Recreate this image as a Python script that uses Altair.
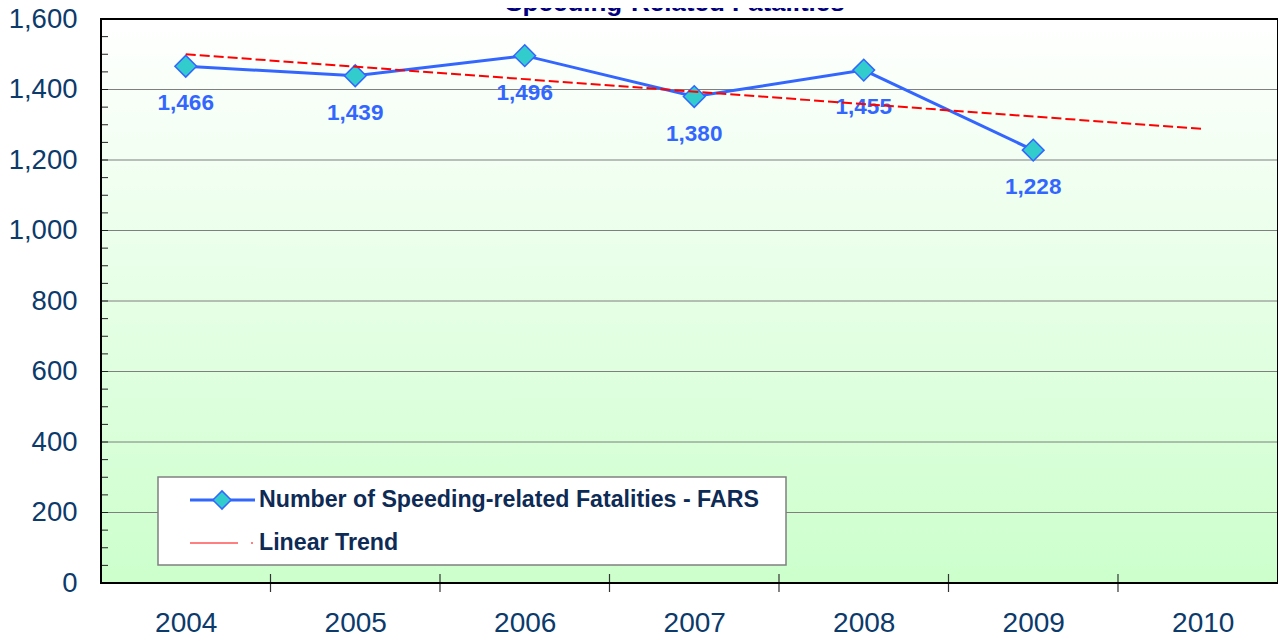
import altair as alt
import pandas as pd

# ---- data ----
years = [2004, 2005, 2006, 2007, 2008, 2009]
fatalities = [1466, 1439, 1496, 1380, 1455, 1228]
trend_years = [2004, 2010]
trend_values = [1500, 1288]
x_labels = [2004, 2005, 2006, 2007, 2008, 2009, 2010]
y_labels = [0, 200, 400, 600, 800, 1000, 1200, 1400, 1600]
gridlines = [200, 400, 600, 800, 1000, 1200, 1400]
minor_ticks = [0, 50, 100, 150, 200, 250, 300, 350, 400, 450, 500, 550, 600, 650,
               700, 750, 800, 850, 900, 950, 1000, 1050, 1100, 1150, 1200, 1250,
               1300, 1350, 1400, 1450, 1500, 1550, 1600]
x_tick_marks = [2004.5, 2005.5, 2006.5, 2007.5, 2008.5, 2009.5]
title_text = "Speeding-Related Fatalities"
series_name = "Number of Speeding-related Fatalities - FARS"
trend_name = "Linear Trend"

W, H = 1177, 564
FONT = "Liberation Sans"
AXIS_COLOR = "#0b3a6b"
BLUE = "#3366ff"

series_df = pd.DataFrame({"year": years, "value": fatalities,
                          "label": [f"{v:,}" for v in fatalities]})
trend_df = pd.DataFrame({"year": trend_years, "value": trend_values})
grid_df = pd.DataFrame({"value": gridlines})
minor_df = pd.DataFrame({"value": minor_ticks})
xtick_df = pd.DataFrame({"year": x_tick_marks})
one = pd.DataFrame({"k": [0]})

x_scale = alt.Scale(domain=[2003.5, 2010.444], nice=False, zero=False)
y_scale = alt.Scale(domain=[0, 1600], nice=False, zero=True)

x_axis = alt.Axis(values=x_labels, format="d", ticks=False, grid=False, domain=False,
                  labelFontSize=28, labelColor=AXIS_COLOR, labelFont=FONT,
                  labelPadding=26, labelOverlap=False, labelFlush=False, title=None)
y_axis = alt.Axis(values=y_labels, format=",d", ticks=False, grid=False, domain=False,
                  labelFontSize=27.5, labelColor=AXIS_COLOR, labelFont=FONT,
                  labelPadding=24, labelOverlap=False, labelFlush=False, title=None)

X = alt.X("year:Q", scale=x_scale, axis=x_axis)
Y = alt.Y("value:Q", scale=y_scale, axis=y_axis)

gradient = alt.LinearGradient(
    gradient="linear",
    stops=[alt.GradientStop(color="#ffffff", offset=0),
           alt.GradientStop(color="#ccffcc", offset=1)],
    x1=0, x2=0, y1=0, y2=1)

background = alt.Chart(one).mark_rect(color=gradient).encode(
    x=alt.value(0), x2=alt.value(W), y=alt.value(0), y2=alt.value(H))

grid = alt.Chart(grid_df).mark_rule(color="#7f7f7f", strokeWidth=1).encode(
    y=Y, x=alt.value(0), x2=alt.value(W))

yticks = alt.Chart(minor_df).mark_rule(color="#222222", strokeWidth=1).encode(
    y=Y, x=alt.value(0), x2=alt.value(7))

xticks = alt.Chart(xtick_df).mark_rule(color="#333333", strokeWidth=1.2).encode(
    x=X, y=alt.value(H - 9), y2=alt.value(H + 9))

series_line = alt.Chart(series_df).mark_line(color=BLUE, strokeWidth=3).encode(x=X, y=Y)
series_pts = alt.Chart(series_df).mark_point(
    shape="diamond", size=470, filled=True, fill="#33cccc", stroke=BLUE,
    strokeWidth=1.5, opacity=1).encode(x=X, y=Y)
series_lbl = alt.Chart(series_df).mark_text(
    dy=37, fontSize=22.5, fontWeight="bold", color=BLUE, font=FONT).encode(
    x=X, y=Y, text="label:N")

trend = alt.Chart(trend_df).mark_line(color="#ff0000", strokeWidth=2,
                                      strokeDash=[10, 4]).encode(x=X, y=Y)

border = alt.Chart(one).mark_rect(fill=None, stroke="black", strokeWidth=2).encode(
    x=alt.value(0), x2=alt.value(W), y=alt.value(0), y2=alt.value(H))

# legend (drawn manually)
leg_box = alt.Chart(one).mark_rect(fill="white", stroke="#808080", strokeWidth=1.5).encode(
    x=alt.value(57), x2=alt.value(685), y=alt.value(458), y2=alt.value(546))
leg_line1 = alt.Chart(one).mark_rule(color=BLUE, strokeWidth=3).encode(
    x=alt.value(89), x2=alt.value(154), y=alt.value(481))
leg_pt1 = alt.Chart(one).mark_point(
    shape="diamond", size=330, filled=True, fill="#33cccc", stroke=BLUE,
    strokeWidth=1.5, opacity=1).encode(x=alt.value(121), y=alt.value(481))
leg_line2 = alt.Chart(one).mark_rule(color="#ff0000", strokeWidth=1,
                                     strokeDash=[48, 13, 2, 100]).encode(
    x=alt.value(89), x2=alt.value(152), y=alt.value(524))
leg_txt1 = alt.Chart(one).mark_text(
    text=series_name, align="left", baseline="middle", fontSize=23.2,
    fontWeight="bold", color="#0d2b55", font=FONT).encode(
    x=alt.value(158), y=alt.value(481))
leg_txt2 = alt.Chart(one).mark_text(
    text=trend_name, align="left", baseline="middle", fontSize=23.2,
    fontWeight="bold", color="#0d2b55", font=FONT).encode(
    x=alt.value(158), y=alt.value(524))

title = alt.Chart(one).mark_text(
    text=title_text, align="center", baseline="alphabetic", fontSize=26,
    fontWeight="bold", color="#000080", font=FONT).encode(
    x=alt.value(574), y=alt.value(-8))

chart = alt.layer(
    background, grid, yticks, xticks, series_line, series_pts, series_lbl, trend,
    border, leg_box, leg_line1, leg_pt1, leg_line2, leg_txt1, leg_txt2, title
).properties(
    width=W, height=H,
    autosize=alt.AutoSizeParams(type="none"),
    padding={"left": 93, "top": 11, "right": 0, "bottom": 55},
).configure_view(stroke=None)

chart.save("out.html", embed_options={"renderer": "svg", "actions": False})
